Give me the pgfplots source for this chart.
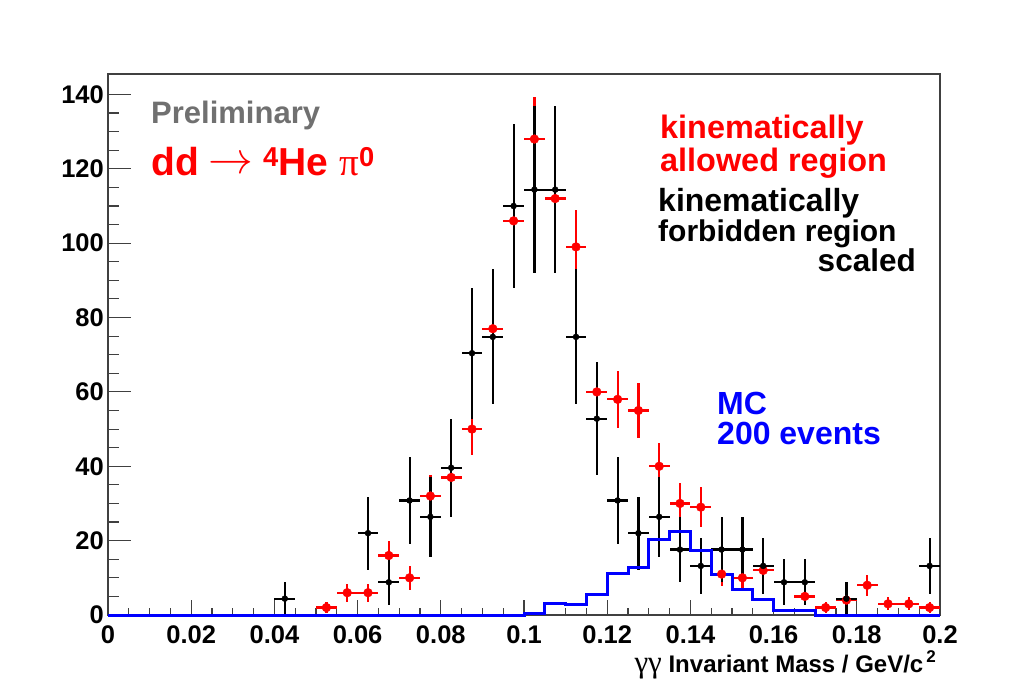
\documentclass[border=0pt]{standalone}
\usepackage{fontspec}
\setmainfont{Liberation Sans}
\newfontfamily\symfont{Liberation Serif}
\usepackage{graphicx}
\usepackage{pgfplots}
\pgfplotsset{compat=1.18}
\usepackage{pgfplotstable}

% kinematically allowed region (red)
\pgfplotstableread{
x       y    ex      ey
0.0525  2    0.0025  1.41
0.0575  6    0.0025  2.45
0.0625  6    0.0025  2.45
0.0675  16   0.0025  4.00
0.0725  10   0.0025  3.16
0.0775  32   0.0025  5.66
0.0825  37   0.0025  6.08
0.0875  50   0.0025  7.07
0.0925  77   0.0025  8.77
0.0975  106  0.0025  10.30
0.1025  128  0.0025  11.31
0.1075  112  0.0025  10.58
0.1125  99   0.0025  9.95
0.1175  60   0.0025  7.75
0.1225  58   0.0025  7.62
0.1275  55   0.0025  7.42
0.1325  40   0.0025  6.32
0.1375  30   0.0025  5.48
0.1425  29   0.0025  5.39
0.1475  11   0.0025  3.32
0.1525  10   0.0025  3.16
0.1575  12   0.0025  3.46
0.1675  5    0.0025  2.24
0.1725  2    0.0025  1.41
0.1775  4    0.0025  2.00
0.1825  8    0.0025  2.83
0.1875  3    0.0025  1.73
0.1925  3    0.0025  1.73
0.1975  2    0.0025  1.41
}\reddata

% kinematically forbidden region, scaled (black)
\pgfplotstableread{
x       y      ex      ey
0.0425  4.4    0.0025  4.40
0.0625  22.0   0.0025  9.84
0.0675  8.8    0.0025  6.22
0.0725  30.8   0.0025  11.64
0.0775  26.4   0.0025  10.78
0.0825  39.6   0.0025  13.20
0.0875  70.4   0.0025  17.60
0.0925  74.8   0.0025  18.14
0.0975  110.0  0.0025  22.00
0.1025  114.4  0.0025  22.44
0.1075  114.4  0.0025  22.44
0.1125  74.8   0.0025  18.14
0.1175  52.8   0.0025  15.24
0.1225  30.8   0.0025  11.64
0.1275  22.0   0.0025  9.84
0.1325  26.4   0.0025  10.78
0.1375  17.6   0.0025  8.80
0.1425  13.2   0.0025  7.62
0.1475  17.6   0.0025  8.80
0.1525  17.6   0.0025  8.80
0.1575  13.2   0.0025  7.62
0.1625  8.8    0.0025  6.22
0.1675  8.8    0.0025  6.22
0.1775  4.4    0.0025  4.40
0.1975  13.2   0.0025  7.62
}\blackdata

\begin{document}
\begin{tikzpicture}
\path[use as bounding box] (0,0) rectangle (1027pt,680pt);
\begin{axis}[
  at={(108pt,65pt)}, anchor=south west,
  scale only axis, width=832pt, height=541pt,
  xmin=0, xmax=0.2, ymin=0, ymax=145.5,
  clip=false,
  axis line style={draw=black!75, line width=1.3pt},
  tick pos=left, tick align=inside,
  xtick={0,0.02,0.04,0.06,0.08,0.1,0.12,0.14,0.16,0.18,0.2},
  xticklabels={0,0.02,0.04,0.06,0.08,0.1,0.12,0.14,0.16,0.18,0.2},
  ytick={0,20,40,60,80,100,120,140},
  yticklabels={0,20,40,60,80,100,120,140},
  minor x tick num=3, minor y tick num=3,
  tick style={black!75, line width=1.1pt},
  major x tick style={/pgfplots/major tick length=15pt},
  minor x tick style={/pgfplots/minor tick length=7pt},
  major y tick style={/pgfplots/major tick length=23pt},
  minor y tick style={/pgfplots/minor tick length=11pt},
  tick label style={font=\fontsize{25.5}{30}\selectfont\bfseries, inner sep=1pt},
  xticklabel style={yshift=-9pt},
  yticklabel style={xshift=-3pt},
]
\addplot[only marks, mark=*, mark size=4.4pt, color=red,
  error bars/.cd, x dir=both, x explicit, y dir=both, y explicit,
  error bar style={line width=2.2pt, red}, error mark=none]
  table[x=x, y=y, x error=ex, y error=ey]{\reddata};
\addplot[only marks, mark=*, mark size=3pt, color=black,
  error bars/.cd, x dir=both, x explicit, y dir=both, y explicit,
  error bar style={line width=2.2pt, black}, error mark=none]
  table[x=x, y=y, x error=ex, y error=ey]{\blackdata};
\addplot[const plot, color=blue, line width=3pt] coordinates {
  (0,0) (0.1,0.5) (0.105,3.0) (0.11,2.7) (0.115,5.6) (0.12,11.2)
  (0.125,12.8) (0.13,20.2) (0.135,22.4) (0.14,17.3) (0.145,10.8)
  (0.15,6.8) (0.155,4.2) (0.16,1.2) (0.165,1.2) (0.17,0) (0.2,0)
};
\end{axis}
\node[anchor=base west, inner sep=0pt, text=black!56, font=\fontsize{31}{36}\selectfont\bfseries] at (151pt,556.5pt) {Preliminary};
\node[anchor=base west, inner sep=0pt, text=red, font=\fontsize{39}{44}\selectfont\bfseries] at (151pt,504pt) {dd\hspace{0.25em}\raisebox{2pt}{\scalebox{1.8}{$\rightarrow$}}\hspace{0.25em}\textsuperscript{4}He {\symfont\mdseries π}\textsuperscript{0}};
\node[anchor=base west, inner sep=0pt, text=red, font=\fontsize{32.4}{36}\selectfont\bfseries] at (660pt,541pt) {kinematically};
\node[anchor=base west, inner sep=0pt, text=red, font=\fontsize{32.4}{36}\selectfont\bfseries] at (660pt,508pt) {allowed region};
\node[anchor=base west, inner sep=0pt, text=black, font=\fontsize{32}{36}\selectfont\bfseries] at (658pt,468pt) {kinematically};
\node[anchor=base west, inner sep=0pt, text=black, font=\fontsize{30}{36}\selectfont\bfseries] at (658pt,438pt) {forbidden region};
\node[anchor=base east, inner sep=0pt, text=black, font=\fontsize{31.5}{36}\selectfont\bfseries] at (916pt,408pt) {scaled};
\node[anchor=base west, inner sep=0pt, text=blue, font=\fontsize{32}{36}\selectfont\bfseries] at (717pt,265pt) {MC};
\node[anchor=base west, inner sep=0pt, text=blue, font=\fontsize{32}{36}\selectfont\bfseries] at (717pt,235pt) {200 events};
\node[anchor=base east, inner sep=0pt, text=black, font=\fontsize{24}{28}\selectfont\bfseries] at (936pt,8pt) {{\symfont\mdseries\fontsize{31}{34}\selectfont γγ} Invariant Mass / GeV/c\hspace{3pt}\raisebox{10pt}{\fontsize{17}{20}\selectfont 2}};
\end{tikzpicture}
\end{document}
